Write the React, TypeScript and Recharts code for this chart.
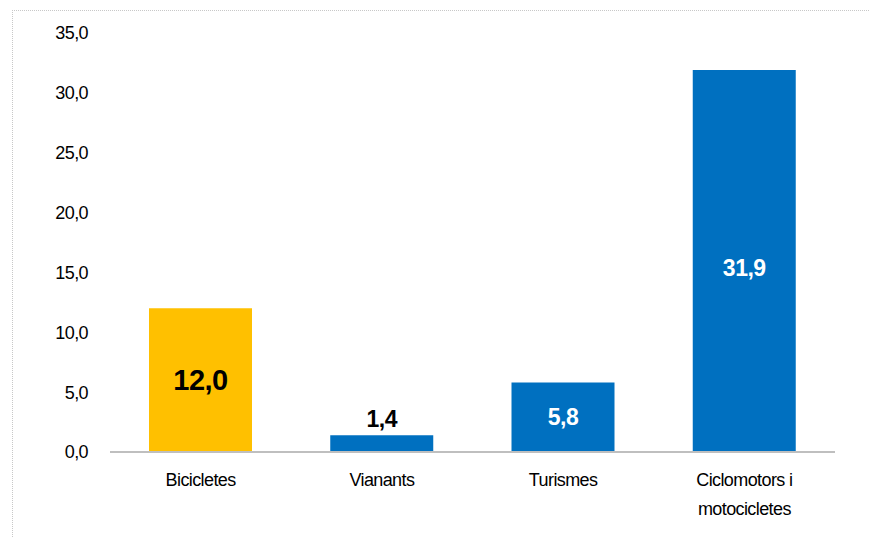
import { Bar, BarChart, Cell, LabelList, XAxis, YAxis } from "recharts";

const categories = ["Bicicletes", "Vianants", "Turismes", "Ciclomotors i motocicletes"];
const values = [12.0, 1.4, 5.8, 31.9];
const barColors = ["#FFC000", "#0070C0", "#0070C0", "#0070C0"];
const yTicks = [0, 5, 10, 15, 20, 25, 30, 35];

const data = categories.map((name, i) => ({ name, value: values[i] }));

const FONT = "'Liberation Sans Narrow', 'Arial Narrow', Arial, sans-serif";
const fmt = (v: number) => v.toFixed(1).replace(".", ",");

function CategoryTick({ x, y, payload }: any) {
  const words: string[] = payload.value === "Ciclomotors i motocicletes"
    ? ["Ciclomotors i", "motocicletes"]
    : [payload.value];
  return (
    <text x={x} y={y} textAnchor="middle" fontFamily={FONT} fontSize={18} letterSpacing={-0.6} fill="#000">
      {words.map((w, i) => (
        <tspan key={w} x={x} dy={i === 0 ? 28 : 29}>
          {w}
        </tspan>
      ))}
    </text>
  );
}

function ValueLabel(props: any) {
  const { x, y, width, height, value, index } = props;
  const cx = x + width / 2;
  if (index === 1) {
    return (
      <text x={cx} y={y - 8} textAnchor="middle" fontFamily={FONT} fontWeight="bold" fontSize={23} letterSpacing={-0.5} fill="#000">
        {fmt(value)}
      </text>
    );
  }
  const big = index === 0;
  return (
    <text
      x={cx}
      y={y + height / 2 + (index === 3 ? 7 : 0)}
      textAnchor="middle"
      dominantBaseline="central"
      fontFamily={FONT}
      fontWeight="bold"
      fontSize={big ? 29 : 23}
      letterSpacing={-0.5}
      fill={big ? "#000" : "#fff"}
    >
      {fmt(value)}
    </text>
  );
}

export default function App() {
  return (
    <div style={{ position: "absolute", left: 0, top: 0, width: 870, height: 537, background: "#fff", overflow: "hidden" }}>
      <div
        style={{
          position: "absolute",
          left: 12,
          top: 10,
          width: 900,
          height: 600,
          borderTop: "1px dotted #C8C8C8",
          borderLeft: "1px dotted #C8C8C8",
        }}
      />
      <BarChart
        width={870}
        height={537}
        data={data}
        margin={{ top: 33, right: 35, bottom: 0, left: 0 }}
        barSize={103}
        style={{ position: "absolute", left: 0, top: 0 }}
      >
        <XAxis
          dataKey="name"
          axisLine={{ stroke: "#BFBFBF", strokeWidth: 2 }}
          tickLine={false}
          interval={0}
          tick={<CategoryTick />}
          height={85}
          tickMargin={0}
        />
        <YAxis
          domain={[0, 35]}
          ticks={yTicks}
          axisLine={false}
          tickLine={false}
          width={110}
          tickMargin={16}
          tickFormatter={fmt}
          tick={{ fontFamily: FONT, fontSize: 18, fill: "#000", letterSpacing: -0.6 }}
        />
        <Bar dataKey="value" isAnimationActive={false}>
          {data.map((d, i) => (
            <Cell key={d.name} fill={barColors[i]} />
          ))}
          <LabelList dataKey="value" content={<ValueLabel />} />
        </Bar>
      </BarChart>
    </div>
  );
}
